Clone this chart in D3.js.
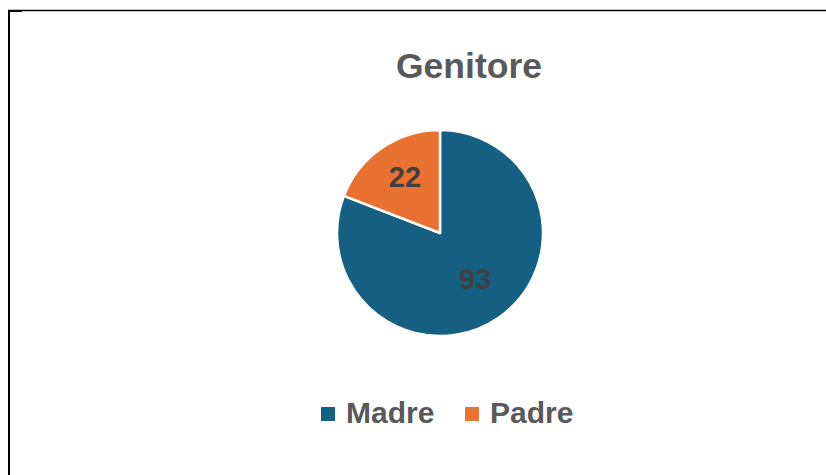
<!DOCTYPE html>
<html>
  <head>
    <meta charset="UTF-8" />
    <title>Genitore</title>
    <style>
      body { margin: 0; background: #fff; }
      text { font-family: "Liberation Sans", Arial, sans-serif; font-weight: bold; }
    </style>
    <script src="https://d3js.org/d3.v7.min.js"></script>
  </head>
  <body>
    <div id="viz"></div>
    <script>
      const categories = ['Madre', 'Padre'];
      const values = [93, 22];
      const colors = ['#156082', '#E97132'];
      const title = 'Genitore';

      const width = 826;
      const height = 475;
      const cx = 440;
      const cy = 233;
      const radius = 103;

      const svg = d3.select('#viz')
        .append('svg')
        .attr('width', width)
        .attr('height', height);

      // frame (only top and left edges are visible in the crop)
      svg.append('line')
        .attr('x1', 8).attr('x2', width)
        .attr('y1', 10.5).attr('y2', 10.5)
        .attr('stroke', '#000').attr('stroke-width', 1.5);
      svg.append('line')
        .attr('x1', 9).attr('x2', 9)
        .attr('y1', 10).attr('y2', height)
        .attr('stroke', '#000').attr('stroke-width', 2);
      svg.append('line')
        .attr('x1', 8).attr('x2', 22)
        .attr('y1', 11).attr('y2', 11)
        .attr('stroke', '#000').attr('stroke-width', 2);

      svg.append('text')
        .attr('x', 469)
        .attr('y', 78)
        .attr('text-anchor', 'middle')
        .attr('font-size', 35.5)
        .attr('fill', '#595959')
        .text(title);

      const data = categories.map((c, i) => ({ name: c, value: values[i], color: colors[i] }));
      const pie = d3.pie().sort(null).value(d => d.value);
      const arc = d3.arc().innerRadius(0).outerRadius(radius);
      const labelArc = d3.arc().innerRadius(62).outerRadius(62);

      const g = svg.append('g').attr('transform', `translate(${cx},${cy})`);
      const arcs = pie(data);

      g.selectAll('path')
        .data(arcs)
        .join('path')
        .attr('d', arc)
        .attr('fill', d => d.data.color)
        .attr('stroke', '#fff')
        .attr('stroke-width', 2.5)
        .attr('stroke-linejoin', 'round');

      g.selectAll('text')
        .data(arcs)
        .join('text')
        .attr('transform', d => `translate(${labelArc.centroid(d)})`)
        .attr('dy', '0.18em')
        .attr('text-anchor', 'middle')
        .attr('font-size', 29)
        .attr('fill', '#404040')
        .text(d => d.data.value);

      // legend
      const legendX = [321, 465];
      const legend = svg.append('g');
      const items = legend.selectAll('g')
        .data(data)
        .join('g')
        .attr('transform', (d, i) => `translate(${legendX[i]},407)`);
      items.append('rect')
        .attr('width', 14)
        .attr('height', 14)
        .attr('fill', d => d.color);
      items.append('text')
        .attr('x', 25)
        .attr('y', 16)
        .attr('font-size', 30)
        .attr('fill', '#595959')
        .text(d => d.name);
    </script>
  </body>
</html>
